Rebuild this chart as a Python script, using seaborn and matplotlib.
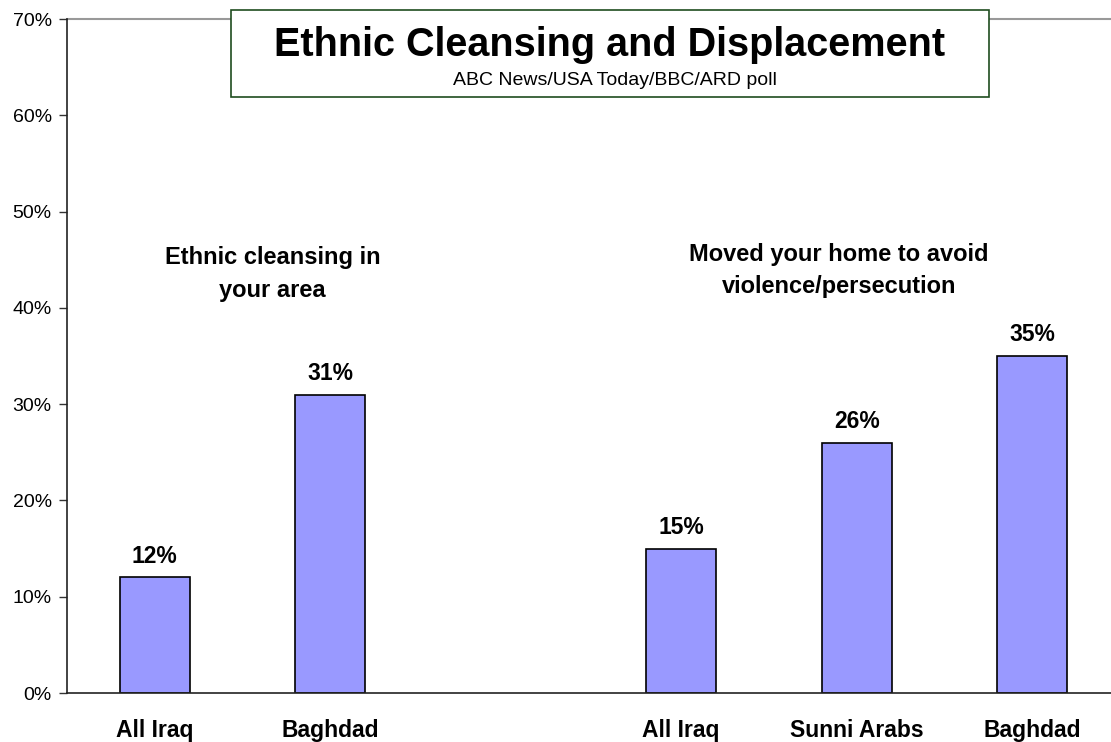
import numpy as np
import pandas as pd
import matplotlib
matplotlib.use("Agg")
import matplotlib.pyplot as plt
from matplotlib.patches import Rectangle
import seaborn as sns

# Poll results (percent)
group_keys = ["cleansing", "cleansing", "moved", "moved", "moved"]
labels = ["All Iraq", "Baghdad", "All Iraq", "Sunni Arabs", "Baghdad"]
values = [12, 31, 15, 26, 35]
group_titles = ["Ethnic cleansing in\nyour area", "Moved your home to avoid\nviolence/persecution"]
title = "Ethnic Cleansing and Displacement"
subtitle = "ABC News/USA Today/BBC/ARD poll"
y_ticks = [0, 10, 20, 30, 40, 50, 60, 70]

sns.set_style("white")
plt.rcParams["font.family"] = ["Liberation Sans", "DejaVu Sans"]
plt.rcParams["text.color"] = "black"
plt.rcParams["xtick.color"] = "black"
plt.rcParams["ytick.color"] = "black"
plt.rcParams["xtick.labelcolor"] = "black"
plt.rcParams["ytick.labelcolor"] = "black"

df = pd.DataFrame({"group": group_keys, "label": labels, "value": values})
df["slot"] = df["group"] + "|" + df["label"]
order = list(df["slot"][:2]) + ["gap"] + list(df["slot"][2:])
slot_labels = list(df["label"][:2]) + [""] + list(df["label"][2:])

W, H = 1111, 742
fig = plt.figure(figsize=(W / 100, H / 100), dpi=100)
left, right, bottom, top = 67, 1120, 693, 19
ax = fig.add_axes([left / W, 1 - bottom / H, (right - left) / W, (bottom - top) / H])

sns.barplot(data=df, x="slot", y="value", order=order, ax=ax,
            color="#9999FF", saturation=1, width=0.4,
            edgecolor="black", linewidth=1.2)

ax.set_ylim(0, 70)
ax.set_xlim(-0.5, len(order) - 0.5)
ax.set_yticks(y_ticks)
ax.set_yticklabels([f"{t}%" for t in y_ticks], fontsize=14)
ax.set_xticks(range(len(order)))
ax.set_xticklabels(slot_labels, fontsize=16.5, fontweight="bold")
ax.set_xticks(np.arange(-0.5, len(order), 1.0), minor=True)
ax.tick_params(axis="x", which="major", length=0, pad=19)
ax.tick_params(axis="x", which="minor", length=6, width=1, color="#333333", direction="out")
ax.tick_params(axis="y", length=6, width=1, color="#333333", direction="out", pad=5, left=True)
ax.set_xlabel("")
ax.set_ylabel("")

for side in ["left", "bottom"]:
    ax.spines[side].set_color("#222222")
    ax.spines[side].set_linewidth(1.2)
ax.spines["right"].set_visible(False)
ax.spines["top"].set_visible(False)
ax.axhline(70, color="#999999", linewidth=1.5, zorder=0, clip_on=False)

for cont in ax.containers:
    ax.bar_label(cont, labels=[f"{v:.0f}%" if not np.isnan(v) else "" for v in cont.datavalues],
                 padding=7, fontsize=16.5, fontweight="bold")

# Group headings
ax.text(0.67, 43.5, group_titles[0], ha="center", va="center",
        fontsize=17, fontweight="bold", linespacing=1.55)
ax.text(3.9, 43.9, group_titles[1], ha="center", va="center",
        fontsize=17, fontweight="bold", linespacing=1.5)

# Title box
fig.patches.append(Rectangle((231 / W, 1 - 97 / H), (989 - 231) / W, (97 - 10) / H,
                             transform=fig.transFigure, facecolor="white",
                             edgecolor="#1F4D1F", linewidth=1.2, zorder=5))
fig.text(610 / W, 1 - 56 / H, title, ha="center", va="baseline",
         fontsize=28.5, fontweight="bold", zorder=6)
fig.text(615 / W, 1 - 85 / H, subtitle, ha="center", va="baseline",
         fontsize=14, zorder=6)

fig.savefig("out.png", dpi=100)
